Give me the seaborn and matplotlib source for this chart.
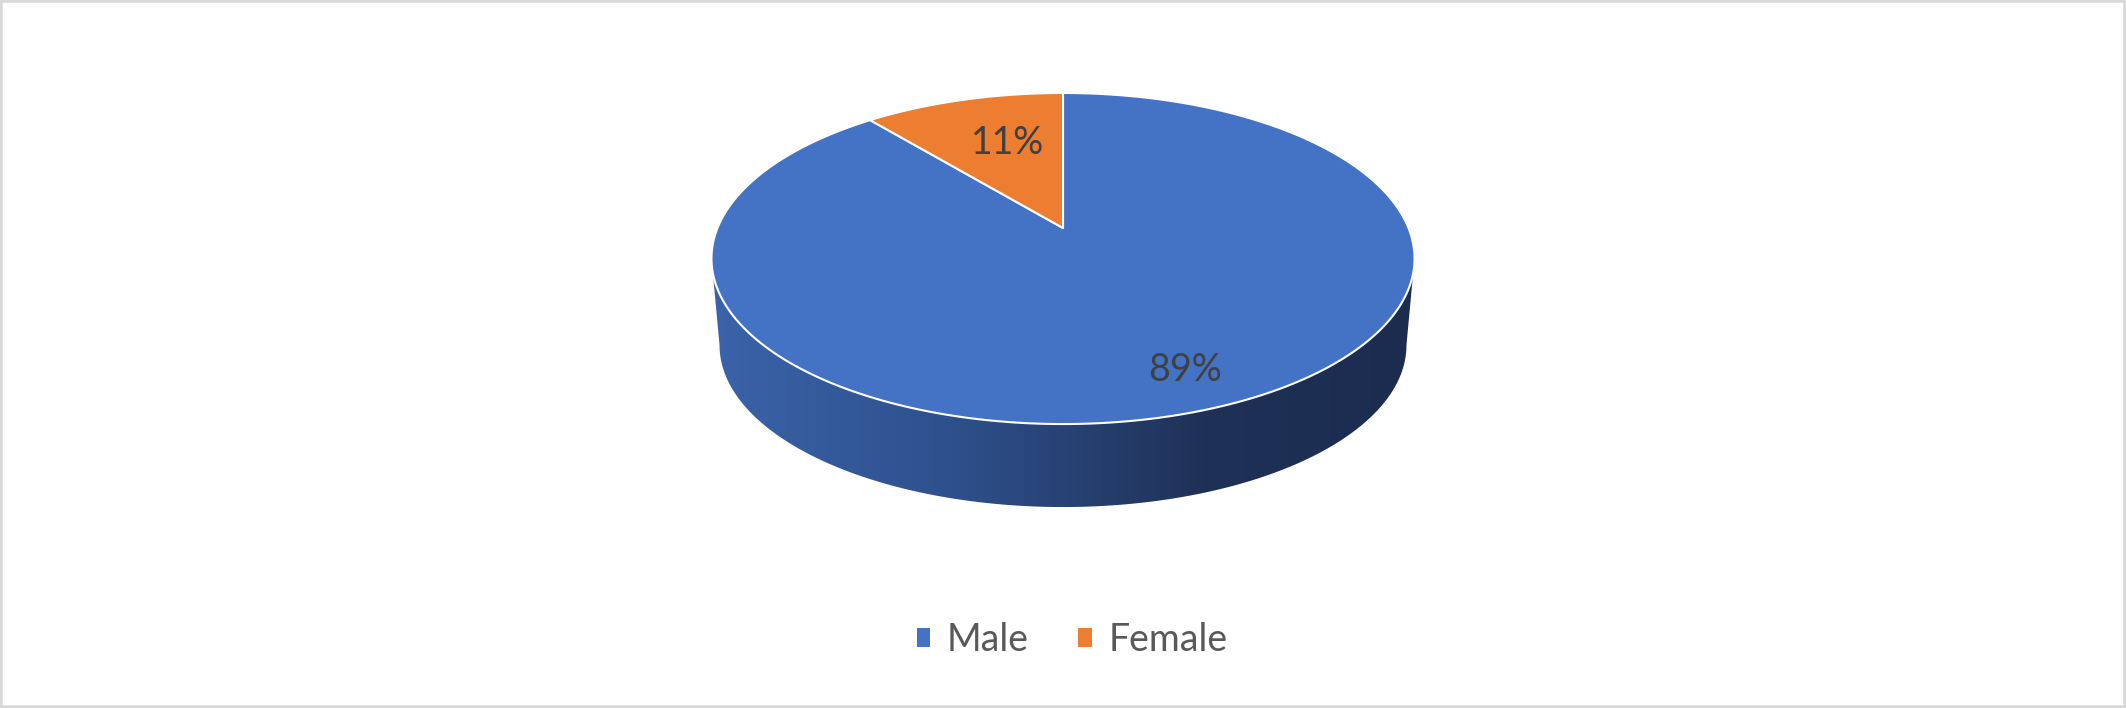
import numpy as np
import matplotlib
matplotlib.use("Agg")
import matplotlib.pyplot as plt
from matplotlib.patches import Polygon, Patch, Rectangle
from matplotlib.colors import LinearSegmentedColormap
import seaborn as sns

# data
labels = ["Male", "Female"]
shares = [89, 11]
pct_text = ["89%", "11%"]

sns.set_theme(style="white")
plt.rcParams['font.family'] = ['Lato', 'DejaVu Sans']
colors = sns.color_palette(["#4472C4", "#ED7D31"])

W, H = 2126, 708
fig = plt.figure(figsize=(W / 100, H / 100), dpi=100)
ax = fig.add_axes([0, 0, 1, 1])

# perspective ellipse for the top face (pixel coords, y down)
cx, cy = 1063, 228
A, B, k = 345.5, 159.9, 0.1844
# bottom face = top face scaled and pushed down
s_bot, drop = 0.977, 87.5


def top_pt(th):
    u, v = np.cos(th), np.sin(th)
    d = 1 + k * v
    return cx + A * u / d, cy - B * v / d


def bot_pt(th):
    u, v = np.cos(th), np.sin(th)
    d = 1 + k * v
    return cx + s_bot * A * u / d, cy + drop - s_bot * B * v / d


total = sum(shares)
starts, ends = [], []
a = 90.0
for sh in shares:
    starts.append(a)
    a -= 360.0 * sh / total
    ends.append(a)

# side wall (front only), with horizontal shading
vis_lo = np.degrees(np.pi + np.arcsin(k))
vis_hi = np.degrees(2 * np.pi - np.arcsin(k))
shade = LinearSegmentedColormap.from_list(
    "side", [(0.0, "#3B63AA"), (0.34, "#2E508C"), (0.70, "#1F3157"), (1.0, "#1B2C4F")])
for st, en in zip(starts, ends):
    for off in (-360, 0, 360):
        lo = max(en, vis_lo + off)
        hi = min(st, vis_hi + off)
        if hi <= lo:
            continue
        th = np.radians(np.linspace(lo, hi, 200))
        tx, ty = top_pt(th)
        bx, by = bot_pt(th[::-1])
        poly = Polygon(np.column_stack([np.r_[tx, bx], np.r_[ty, by]]),
                       closed=True, facecolor="none", edgecolor="none")
        ax.add_patch(poly)
        grad = shade(np.linspace(0, 1, 512))[None, :, :3]
        im = ax.imshow(grad, extent=[cx - A * 1.02, cx + A * 1.02, cy + 300, cy],
                       aspect="auto", interpolation="bilinear", zorder=1)
        im.set_clip_path(poly)

# top face slices
for st, en, c in zip(starts, ends, colors):
    th = np.radians(np.linspace(st, en, 300))
    x, y = top_pt(th)
    pts = np.column_stack([np.r_[cx, x], np.r_[cy, y]])
    ax.add_patch(Polygon(pts, closed=True, facecolor=c, edgecolor="white",
                         linewidth=1.5, joinstyle="round", zorder=2))

# data labels
label_frac = [0.80, 0.65]
for st, en, txt, f in zip(starts, ends, pct_text, label_frac):
    m = np.radians((st + en) / 2)
    u, v = f * np.cos(m), f * np.sin(m)
    d = 1 + k * v
    lx, ly = cx + A * u / d + 13, cy - B * v / d
    ax.text(lx, ly + 13.5, txt, ha="center", va="baseline", fontsize=27,
            color="#404040", zorder=3)

ax.set_xlim(0, W)
ax.set_ylim(H, 0)
ax.axis("off")

handles = [Patch(facecolor=c, edgecolor="none") for c in colors]
fig.legend(handles, labels, loc="center", bbox_to_anchor=(1072 / W, 1 - 640 / H),
           ncol=2, frameon=False, fontsize=27, handlelength=0.37, handleheight=0.37,
           handletextpad=0.43, columnspacing=1.33, labelcolor="#595959")

fig.add_artist(Rectangle((0, 0), 1, 1, transform=fig.transFigure, fill=False,
                         edgecolor="#D9D9D9", linewidth=4))

fig.savefig("out.png", dpi=100)
